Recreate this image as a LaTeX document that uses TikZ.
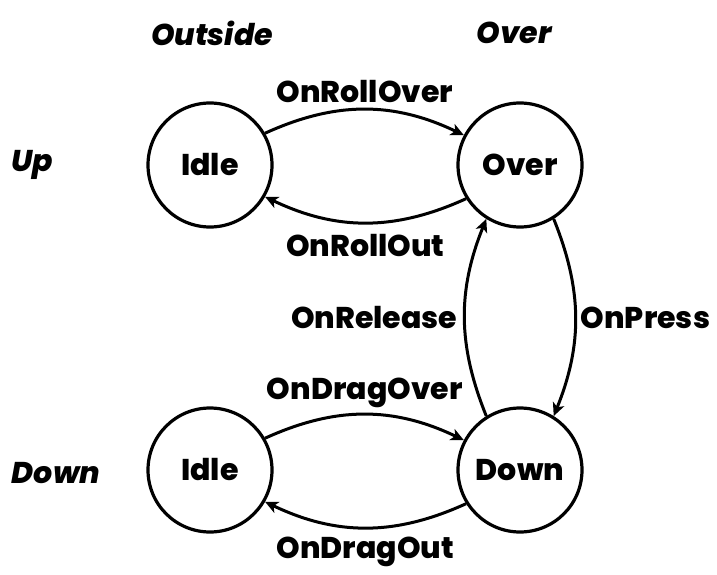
\documentclass[tikz,border=0pt]{standalone}
\usepackage{fontspec}
\setmainfont{Poppins}[BoldFont={Poppins ExtraBold},BoldItalicFont={Poppins ExtraBold Italic}]
\usetikzlibrary{arrows.meta}
\begin{document}
\begin{tikzpicture}[x=1pt,y=-1pt,
  state/.style={circle,draw,line width=3.2pt,minimum size=124pt,inner sep=0pt,font=\fontsize{30}{33}\selectfont\bfseries},
  trans/.style={line width=3pt,-{Stealth[length=13pt,width=12pt,inset=3.5pt]}},
  lbl/.style={font=\fontsize{30}{33}\selectfont\bfseries,inner sep=2pt},
  head/.style={font=\fontsize{30}{33}\selectfont\bfseries\itshape}]
\useasboundingbox (0,0) rectangle (717,575);
\node[state] (idleA) at (210,165) {Idle};
\node[state] (over) at (520,165) {Over};
\node[state] (idleB) at (210,470) {Idle};
\node[state] (down) at (520,470) {Down};

\node[head] (hOut) at (212,33) {Outside};
\node[head] (hOver) at (514,33) {Over};
\node[head] (hUp) at (32,165) {Up};
\node[head] (hDown) at (56,473) {Down};

\draw[trans] (idleA.30) to[bend left=25] node[lbl,above=3pt] {OnRollOver} (over.152);
\draw[trans] (over.212) to[bend left=25] node[lbl,below=8pt] {OnRollOut} (idleA.330);
\draw[trans] (idleB.30) to[bend left=25] node[lbl,above=3pt] {OnDragOver} (down.152);
\draw[trans] (down.212) to[bend left=25] node[lbl,below=6pt] {OnDragOut} (idleB.330);
\draw[trans] (over.302) to[bend left=22] node[lbl,right=2pt] {OnPress} (down.58);
\draw[trans] (down.122) to[bend left=22] node[lbl,left=4pt] {OnRelease} (over.238);
\end{tikzpicture}
\end{document}
